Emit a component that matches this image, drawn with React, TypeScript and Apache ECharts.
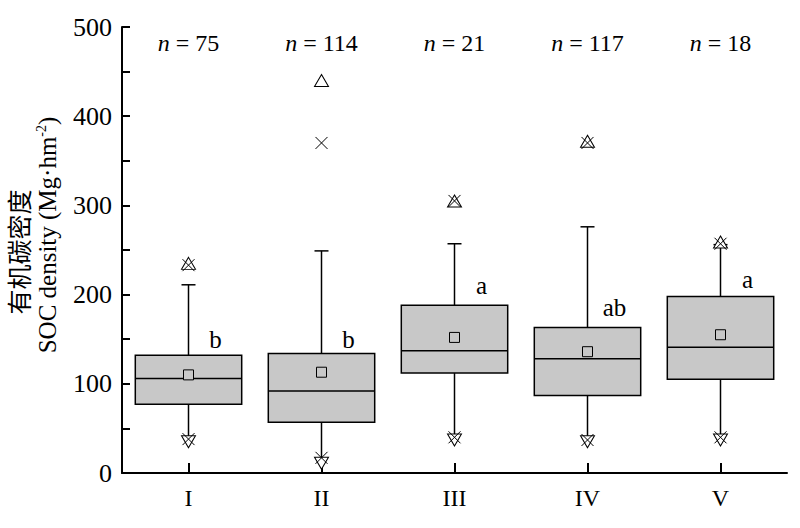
import React, { useEffect, useRef } from "react";
import * as echarts from "echarts";

const categories = ["I", "II", "III", "IV", "V"];
const whiskerLow = [37, 13, 39, 36, 39];
const q1 = [77, 57, 112, 87, 105];
const median = [106, 92, 137, 128, 141];
const q3 = [132, 134, 188, 163, 198];
const whiskerHigh = [211, 249, 257, 276, 256];
const means = [110, 113, 152, 136, 155];
const maxVals = [235, 440, 305, 372, 259];
const p99Vals = [233, 370, 305, 370, 257];
const p1Vals = [38, 17, 40, 37, 40];
const minVals = [35, 11, 37, 35, 37];
const letters = ["b", "b", "a", "ab", "a"];
const letterY = [150, 150, 210, 186, 217];
const nCounts = [75, 114, 21, 117, 18];
const nLabelY = [482, 482, 482, 482, 482];
const yTicks = [0, 100, 200, 300, 400, 500];

const SERIF = "'Liberation Serif', 'Times New Roman', serif";
const CROSS = "path://M0,0L10,10M10,0L0,10";

export default function App() {
  const ref = useRef<HTMLDivElement>(null);
  useEffect(() => {
    if (!ref.current) return;
    const chart = echarts.init(ref.current, null, { renderer: "svg" });
    const boxData = categories.map((_, i) => [i, whiskerLow[i], q1[i], median[i], q3[i], whiskerHigh[i]]);
    const markerStyle = { color: "#fff", borderColor: "#000", borderWidth: 1, opacity: 1 };
    const option: any = {
      animation: false,
      backgroundColor: "#fff",
      grid: { left: 122, top: 27, right: 13, bottom: 55 },
      xAxis: {
        type: "category",
        data: categories,
        boundaryGap: true,
        axisLine: { show: true, lineStyle: { color: "#000", width: 2 } },
        axisTick: { show: true, inside: true, alignWithLabel: true, length: 10, lineStyle: { color: "#000", width: 2 } },
        axisLabel: { color: "#000", fontFamily: SERIF, fontSize: 24, margin: 13 },
        splitLine: { show: false },
      },
      yAxis: {
        type: "value",
        min: yTicks[0],
        max: yTicks[yTicks.length - 1],
        interval: 100,
        axisLine: { show: true, lineStyle: { color: "#000", width: 2 } },
        axisTick: { show: true, inside: true, length: 8, lineStyle: { color: "#000", width: 2 } },
        minorTick: { show: true, splitNumber: 2, length: 8, lineStyle: { color: "#000", width: 2 } },
        axisLabel: { color: "#000", fontFamily: SERIF, fontSize: 26, margin: 10 },
        splitLine: { show: false },
      },
      graphic: [
        {
          type: "text",
          x: 18,
          y: 252,
          rotation: Math.PI / 2,
          style: {
            text: "有机碳密度",
            font: "25px 'Noto Sans CJK SC'",
            fill: "#000",
            align: "center",
            verticalAlign: "middle",
          },
        },
        {
          type: "text",
          x: 47,
          y: 235,
          rotation: Math.PI / 2,
          style: {
            text: "SOC density (Mg·hm{sup|-2})",
            fontFamily: SERIF,
            fontSize: 25,
            fill: "#000",
            align: "center",
            verticalAlign: "middle",
            rich: {
              sup: { fontFamily: SERIF, fontSize: 14, verticalAlign: "top", fill: "#000" },
            },
          },
        },
      ],
      series: [
        {
          type: "custom",
          data: boxData,
          encode: { x: 0, y: [1, 2, 3, 4, 5] },
          z: 2,
          renderItem: (params: any, api: any) => {
            const x = api.value(0);
            const lo = api.coord([x, api.value(1)]);
            const b1 = api.coord([x, api.value(2)]);
            const md = api.coord([x, api.value(3)]);
            const b3 = api.coord([x, api.value(4)]);
            const hi = api.coord([x, api.value(5)]);
            const bw = api.size([1, 0])[0] * 0.8;
            const cw = 14;
            const cx = lo[0];
            const ls = { stroke: "#000", lineWidth: 1.5 };
            return {
              type: "group",
              children: [
                { type: "line", shape: { x1: cx, y1: b3[1], x2: cx, y2: hi[1] }, style: ls },
                { type: "line", shape: { x1: cx - cw / 2, y1: hi[1], x2: cx + cw / 2, y2: hi[1] }, style: ls },
                { type: "line", shape: { x1: cx, y1: b1[1], x2: cx, y2: lo[1] }, style: ls },
                {
                  type: "rect",
                  shape: { x: cx - bw / 2, y: b3[1], width: bw, height: b1[1] - b3[1] },
                  style: { fill: "#c8c8c8", stroke: "#000", lineWidth: 1.5 },
                },
                { type: "line", shape: { x1: cx - bw / 2, y1: md[1], x2: cx + bw / 2, y2: md[1] }, style: ls },
              ],
            };
          },
        },
        {
          type: "scatter",
          data: means.map((v, i) => [i, v]),
          symbol: "rect",
          symbolSize: 10,
          z: 5,
          itemStyle: { color: "#c8c8c8", borderColor: "#000", borderWidth: 1, opacity: 1 },
        },
        {
          type: "scatter",
          data: maxVals.map((v, i) => [i, v]),
          symbol: "triangle",
          symbolSize: [14, 12],
          z: 5,
          itemStyle: markerStyle,
        },
        {
          type: "scatter",
          data: minVals.map((v, i) => [i, v]),
          symbol: "triangle",
          symbolRotate: 180,
          symbolSize: [14, 12],
          z: 5,
          itemStyle: markerStyle,
        },
        {
          type: "scatter",
          data: p99Vals.map((v, i) => [i, v]),
          symbol: CROSS,
          symbolSize: 12,
          z: 6,
          itemStyle: { color: "none", borderColor: "#000", borderWidth: 1, opacity: 1 },
        },
        {
          type: "scatter",
          data: p1Vals.map((v, i) => [i, v]),
          symbol: CROSS,
          symbolSize: 12,
          z: 6,
          itemStyle: { color: "none", borderColor: "#000", borderWidth: 1, opacity: 1 },
        },
        {
          type: "scatter",
          data: letterY.map((v, i) => [i, v]),
          symbolSize: 0,
          z: 6,
          itemStyle: { opacity: 1 },
          label: {
            show: true,
            position: "inside",
            offset: [27, 0],
            color: "#000",
            fontFamily: SERIF,
            fontSize: 25,
            formatter: (p: any) => letters[p.dataIndex],
          },
        },
        {
          type: "scatter",
          data: nLabelY.map((v, i) => [i, v]),
          symbolSize: 0,
          z: 6,
          itemStyle: { opacity: 1 },
          label: {
            show: true,
            position: "inside",
            color: "#000",
            formatter: (p: any) => `{i|n}{t| = ${nCounts[p.dataIndex]}}`,
            rich: {
              i: { fontFamily: SERIF, fontStyle: "italic", fontSize: 24, color: "#000" },
              t: { fontFamily: SERIF, fontSize: 24, color: "#000" },
            },
          },
        },
      ],
    };
    chart.setOption(option);
    return () => chart.dispose();
  }, []);
  return <div ref={ref} style={{ position: "fixed", left: 0, top: 0, width: 800, height: 528 }} />;
}
